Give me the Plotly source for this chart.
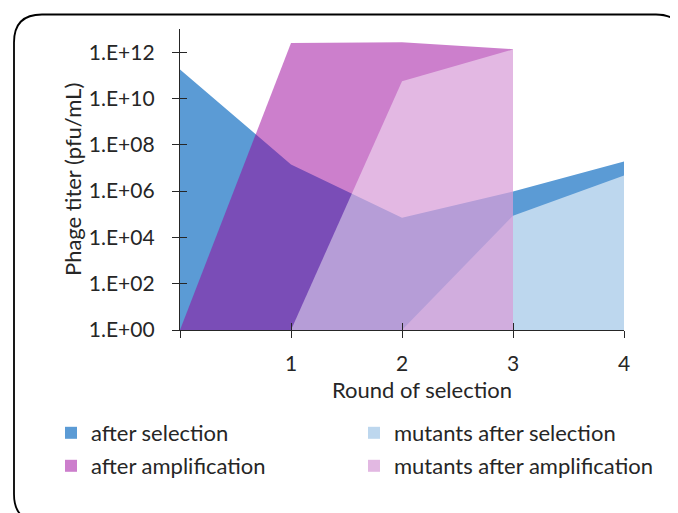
import plotly.graph_objects as go

# rounds of selection (x) and phage titers (pfu/mL)
rounds = [0, 1, 2, 3, 4]
round_labels = ["", "1", "2", "3", "4"]

after_selection = [1.8e11, 1.4e7, 7.0e4, 9.5e5, 1.9e7]
mutants_after_selection = [None, None, 1, 8.7e4, 4.7e6]
after_amplification = [1, 2.5e12, 2.7e12, 1.35e12, None]
mutants_after_amplification = [None, 1, 5.6e10, 1.3e12, None]

titer_ticks = [1e0, 1e2, 1e4, 1e6, 1e8, 1e10, 1e12]
titer_labels = ["1.E+00", "1.E+02", "1.E+04", "1.E+06", "1.E+08", "1.E+10", "1.E+12"]

# the page body adds an 8px margin, so the figure is laid out 8px in from the window
OFF = 8
W, H = 678 - OFF, 513 - OFF
# plot area in window pixels: x 180..624, y 29..330
ML, MT = 180 - OFF, 29 - OFF
MR, MB = W - (624 - OFF), H - (330 - OFF)
FONT = "Lato"
INK = "#262626"


def paper(xp, yp):
    # window pixel position -> paper coords of the plot area
    return (xp - 180) / (624 - 180), (330 - yp) / (330 - 29)


fig = go.Figure()

# areas, back to front (same order as the excel chart draws them)
fig.add_trace(go.Scatter(x=rounds, y=after_selection, fill="tozeroy", mode="none",
                         fillcolor="#5B9BD5", showlegend=False, hoverinfo="skip"))
fig.add_trace(go.Scatter(x=rounds, y=mutants_after_selection, fill="tozeroy", mode="none",
                         fillcolor="#BDD7EE", showlegend=False, hoverinfo="skip"))
fig.add_trace(go.Scatter(x=rounds, y=after_amplification, fill="tozeroy", mode="none",
                         fillcolor="rgba(153,0,153,0.5)", showlegend=False, hoverinfo="skip"))
fig.add_trace(go.Scatter(x=rounds, y=mutants_after_amplification, fill="tozeroy", mode="none",
                         fillcolor="rgba(255,255,255,0.45)", showlegend=False, hoverinfo="skip"))

# legend swatches, one legend box per entry so the 2x2 grid sits where excel puts it
legend_items = [("after selection", "#5B9BD5", 93, 433),
                ("mutants after selection", "#BDD7EE", 396, 433),
                ("after amplification", "#CC7ECC", 93, 466),
                ("mutants after amplification", "#E2B8E2", 396, 466)]
legend_layout = {}
for i, (name, col, tx, ty) in enumerate(legend_items):
    key = "legend" if i == 0 else "legend%d" % (i + 1)
    fig.add_trace(go.Scatter(x=[None], y=[None], mode="markers", name=name, legend=key,
                             marker=dict(symbol="square", size=12, color=col)))
    lx, ly = paper(tx - 42, ty)
    legend_layout[key] = dict(x=lx, xanchor="left", y=ly, yanchor="middle",
                              font=dict(size=22), itemclick=False,
                              bgcolor="rgba(0,0,0,0)")

# dummy trace for the overlay axes (inner half of the crossing ticks)
fig.add_trace(go.Scatter(x=[0], y=[1], xaxis="x2", yaxis="y2", mode="markers",
                         marker=dict(opacity=0), showlegend=False, hoverinfo="skip"))

axis_common = dict(showgrid=False, zeroline=False, ticklen=7, tickwidth=1.3, tickcolor=INK)

fig.update_layout(
    width=W, height=H,
    margin=dict(l=ML, r=MR, t=MT, b=MB, autoexpand=False),
    paper_bgcolor="white", plot_bgcolor="white",
    font=dict(family=FONT, size=21, color=INK),
    xaxis=dict(range=[0, 4], tickvals=rounds, ticktext=round_labels, ticks="outside",
               showline=True, linecolor=INK, linewidth=1.3, ticklabelstandoff=8,
               **axis_common),
    yaxis=dict(type="log", range=[0, 13], tickvals=titer_ticks, ticktext=titer_labels,
               ticks="outside", showline=True, linecolor=INK, linewidth=1.3,
               ticklabelstandoff=13, **axis_common),
    xaxis2=dict(overlaying="x", range=[0, 4], tickvals=rounds, ticks="inside",
                showticklabels=False, showline=False, **axis_common),
    yaxis2=dict(overlaying="y", type="log", range=[0, 13], tickvals=titer_ticks,
                ticks="inside", showticklabels=False, showline=False, **axis_common),
    showlegend=True,
    **legend_layout,
)

x_t, y_t = paper(422, 389)
fig.add_annotation(text="Round of selection", x=x_t, y=y_t, xref="paper", yref="paper",
                   xanchor="center", yanchor="middle", showarrow=False, font=dict(size=22))
x_t, y_t = paper(72, 180)
fig.add_annotation(text="Phage titer (pfu/mL)", x=x_t, y=y_t, xref="paper", yref="paper",
                   xanchor="center", yanchor="middle", showarrow=False, textangle=-90,
                   font=dict(size=22))

# rounded chart-area border (runs off the right and bottom of the window)
left, top, right, bottom, r = 14, 14.5, 684, 522, 28
pts = {k: paper(*v) for k, v in {
    "a": (left, top + r), "b": (left, top), "c": (left + r, top),
    "d": (right - r, top), "e": (right, top), "f": (right, top + r),
    "g": (right, bottom - r), "h": (right, bottom), "i": (right - r, bottom),
    "j": (left + r, bottom), "k": (left, bottom), "l": (left, bottom - r)}.items()}
path = ("M {a[0]},{a[1]} Q {b[0]},{b[1]} {c[0]},{c[1]} L {d[0]},{d[1]} "
        "Q {e[0]},{e[1]} {f[0]},{f[1]} L {g[0]},{g[1]} Q {h[0]},{h[1]} {i[0]},{i[1]} "
        "L {j[0]},{j[1]} Q {k[0]},{k[1]} {l[0]},{l[1]} Z").format(**pts)
fig.add_shape(type="path", path=path, xref="paper", yref="paper",
              line=dict(color="black", width=1.8), layer="above")

fig.write_html("out.html")
